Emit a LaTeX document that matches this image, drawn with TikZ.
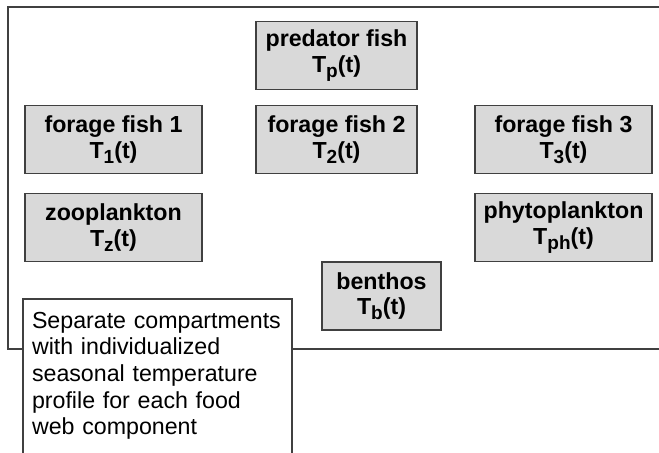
\documentclass[tikz,border=0pt]{standalone}
\usepackage{fontspec}
\setmainfont{Liberation Sans}
\usetikzlibrary{positioning}

\newcommand{\compsub}[1]{\raisebox{-5bp}{\fontsize{19bp}{19bp}\selectfont #1}}

\begin{document}
\begin{tikzpicture}[
        x=1bp, y=-1bp,
        node distance=16bp and 54bp,
        every node/.style={font=\fontsize{23.2bp}{26.6bp}\selectfont},
        comp/.style={
            rectangle,
            draw=black!75,
            line width=1.6bp,
            fill=gray!30,
            minimum height=68bp,
            minimum width=161bp,
            align=center,
            inner sep=0pt,
            outer sep=0pt,
            font=\fontsize{23.2bp}{25.5bp}\selectfont\bfseries
        },
        widecomp/.style={comp, minimum width=177bp},
        frame/.style={draw=black!75, line width=1.6bp},
        note/.style={
            rectangle,
            draw=black!75,
            line width=1.6bp,
            fill=white,
            text width=251bp,
            align=left,
            inner xsep=9bp,
            inner ysep=13bp,
            text depth=150bp,
            outer sep=0pt
        }
    ]
    \useasboundingbox (0,0) rectangle (659,453);

    % system boundary, open on the right
    \draw[frame] (665,7) -| (8,349) -- (665,349);

    \node[comp] (predator) at (336.5,55.5) {predator fish\\T\compsub{p}(t)};
    \node[comp, below=of predator] (forage2) {forage fish 2\\T\compsub{2}(t)};
    \node[widecomp, left=54bp of forage2] (forage1) {forage fish 1\\T\compsub{1}(t)};
    \node[widecomp, right=58bp of forage2] (forage3) {forage fish 3\\T\compsub{3}(t)};
    \node[widecomp, below=20bp of forage1] (zoo) {zooplankton\\T\compsub{z}(t)};
    \node[widecomp, below=20bp of forage3] (phyto) {phytoplankton\\T\compsub{ph}(t)};
    \node[comp, minimum width=119bp] (benthos) at (381.5,296) {benthos\\T\compsub{b}(t)};

    \node[note, anchor=north west] (note) at (23,299)
        {Separate compartments\\with individualized\\seasonal temperature\\profile for each food\\web component};
\end{tikzpicture}
\end{document}
